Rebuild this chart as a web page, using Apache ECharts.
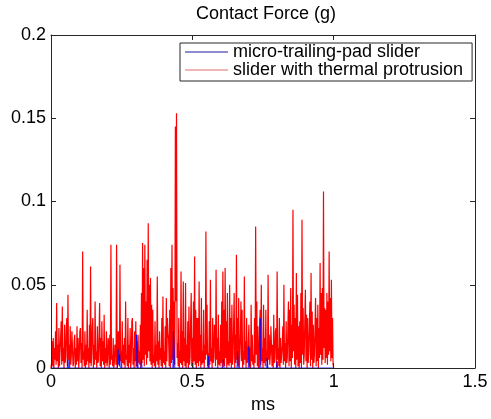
<!DOCTYPE html>
<html>
<head>
<meta charset="utf-8">
<script src="https://cdn.jsdelivr.net/npm/echarts@6/dist/echarts.min.js"></script>
<style>
html,body{margin:0;padding:0;background:#fff;}
#chart{width:491px;height:419px;}
</style>
</head>
<body>
<div id="chart"></div>
<script>
// Contact force samples, in units of 1e-3 g, one sample every 0.002 ms from 0 to 1 ms
const sampleStep = 0.002;
const redForce = [
  0,3, 16,1, 18,0, 12,5, 22,2, 39,4, 14,0, 24,1, 10,18, 28,2,
  37,4, 12,0, 26,3, 6,24, 30,1, 44,5, 14,0, 25,2, 8,22, 23,1,
  3,16, 20,0, 12,2, 25,4, 18,0, 6,22, 24,3, 15,0, 70,5, 10,1,
  22,0, 14,2, 35,4, 12,0, 26,3, 61,1, 8,24, 30,0, 14,2, 40,5,
  10,0, 25,3, 5,20, 39,1, 18,0, 28,4, 16,2, 32,0, 12,3, 22,1,
  4,18, 15,0, 20,2, 74,5, 8,1, 18,0, 3,14, 12,2, 74,0, 6,22,
  20,1, 62,4, 10,0, 28,3, 14,2, 18,0, 40,5, 8,1, 30,0, 14,3,
  24,0, 5,28, 30,2, 12,0, 22,4, 28,1, 16,0, 20,3, 10,2, 26,0,
  45,3, 75,5, 60,1, 74,8, 40,2, 65,6, 87,10, 50,4, 54,2, 38,0,
  35,3, 8,1, 28,0, 14,4, 55,2, 16,0, 22,5, 12,1, 30,0, 43,3,
  10,2, 25,0, 42,4, 30,20, 18,1, 35,0, 60,3, 74,5, 48,0, 40,2,
  145,40, 153,6, 15,1, 30,0, 10,3, 58,2, 22,0, 52,4, 18,1, 51,0,
  14,3, 28,0, 37,2, 6,28, 45,1, 18,0, 40,4, 67,2, 35,0, 30,3,
  30,1, 52,4, 20,0, 42,2, 10,3, 35,0, 14,5, 82,8, 38,1, 9,0,
  28,2, 53,4, 12,0, 30,3, 6,26, 24,1, 59,5, 18,0, 32,2, 10,1,
  26,3, 40,0, 58,4, 35,1, 60,6, 28,0, 45,2, 16,1, 50,3, 30,0,
  38,2, 6,26, 45,0, 20,3, 68,5, 30,1, 42,0, 8,20, 40,4, 35,0,
  10,2, 55,5, 16,0, 30,3, 5,14, 26,1, 12,0, 38,4, 20,2, 8,0,
  30,3, 85,8, 40,1, 25,0, 6,24, 35,2, 50,4, 12,0, 38,3, 18,1,
  35,4, 10,0, 56,5, 20,2, 8,25, 26,1, 14,0, 32,3, 6,22, 24,0,
  58,5, 12,1, 30,0, 18,3, 8,14, 25,2, 50,4, 15,0, 28,3, 6,24,
  40,1, 35,4, 48,0, 26,6, 95,10, 38,2, 30,0, 57,5, 44,1, 25,0,
  28,3, 45,0, 89,8, 36,2, 8,30, 47,4, 32,0, 30,3, 10,26, 40,1,
  57,5, 34,0, 26,3, 8,24, 42,1, 30,4, 38,0, 24,6, 63,8, 45,2,
  48,5, 106,12, 36,3, 35,6, 45,2, 40,8, 70,10, 42,4, 53,6, 30,2,
  0
];
// Micro-trailing-pad slider: sparse small contacts (time in ms, force in 1e-3 g)
const blueTime = [0, 0.058, 0.06, 0.062, 0.235, 0.237, 0.240, 0.243, 0.245, 0.301, 0.303, 0.306, 0.308,
  0.318, 0.320, 0.322, 0.431, 0.433, 0.436, 0.438, 0.555, 0.557, 0.559, 0.608, 0.610, 0.612,
  0.658, 0.660, 0.662, 0.698, 0.700, 0.702, 0.738, 0.740, 0.742, 0.763, 0.765, 0.767,
  0.798, 0.800, 0.802, 1.0];
const blueForce = [0, 0, 5, 0, 0, 11, 2, 8, 0, 0, 20, 8, 0,
  0, 5, 0, 0, 22, 10, 0, 0, 7, 0, 0, 5, 0,
  0, 10, 0, 0, 13, 0, 0, 30, 0, 0, 6, 0,
  0, 4, 0, 0];
const seriesNames = ['micro-trailing-pad slider', 'slider with thermal protrusion'];
const xTicks = [0, 0.5, 1, 1.5];
const yTicks = [0, 0.05, 0.1, 0.15, 0.2];

const redData = redForce.map((v, i) => [+(i * sampleStep).toFixed(4), v / 1000]);
const blueData = blueTime.map((t, i) => [t, blueForce[i] / 1000]);

const FONT = '"Liberation Sans", Arial, sans-serif';
const AXC = '#262626';
const chart = echarts.init(document.getElementById('chart'), null, {renderer: 'canvas'});
const axisCommon = {
  axisLine: {show: true, onZero: false, lineStyle: {color: AXC, width: 1}},
  axisTick: {show: true, inside: true, length: 5, lineStyle: {color: AXC}},
  splitLine: {show: false},
  z: 10
};
chart.setOption({
  animation: false,
  backgroundColor: '#fff',
  title: {
    text: 'Contact Force (g)', left: 261, top: 0, textAlign: 'center',
    textStyle: {fontFamily: FONT, fontSize: 18, fontWeight: 'normal', color: '#000'}
  },
  legend: {
    data: [
      {name: seriesNames[0], icon: 'rect', itemStyle: {color: '#1a1aa0'}},
      {name: seriesNames[1], icon: 'rect', itemStyle: {color: '#e07070'}}
    ],
    orient: 'vertical', left: 180, top: 43,
    itemWidth: 43, itemHeight: 1, itemGap: 0,
    padding: [0, 9, 2, 5],
    borderColor: AXC, borderWidth: 1, backgroundColor: '#fff',
    textStyle: {fontFamily: FONT, fontSize: 18, color: '#000', lineHeight: 16}
  },
  grid: {left: 51, right: 16, top: 35, bottom: 51},
  xAxis: [
    Object.assign({
      type: 'value', min: 0, max: 1.5, interval: 0.5, position: 'bottom',
      name: 'ms', nameLocation: 'middle', nameGap: 25,
      nameTextStyle: {fontFamily: FONT, fontSize: 18, color: '#000'},
      axisLabel: {fontFamily: FONT, fontSize: 18, color: '#000', margin: 5,
        formatter: v => String(xTicks.find(t => Math.abs(t - v) < 1e-9) ?? v)}
    }, axisCommon),
    Object.assign({
      type: 'value', min: 0, max: 1.5, interval: 0.5, position: 'top',
      axisLabel: {show: false}
    }, axisCommon)
  ],
  yAxis: [
    Object.assign({
      type: 'value', min: 0, max: 0.2, interval: 0.05, position: 'left',
      axisLabel: {fontFamily: FONT, fontSize: 18, color: '#000', margin: 5,
        formatter: v => String(yTicks.find(t => Math.abs(t - v) < 1e-9) ?? v)}
    }, axisCommon),
    Object.assign({
      type: 'value', min: 0, max: 0.2, interval: 0.05, position: 'right',
      axisLabel: {show: false}
    }, axisCommon)
  ],
  series: [
    {
      name: seriesNames[1], type: 'line', data: redData, xAxisIndex: 0, yAxisIndex: 0,
      symbol: 'none', color: '#ff0000', lineStyle: {width: 1.2, color: '#ff0000'}, z: 3
    },
    {
      name: seriesNames[0], type: 'line', data: blueData, xAxisIndex: 0, yAxisIndex: 0,
      symbol: 'none', color: '#0000ff', lineStyle: {width: 1, color: '#0000ff', opacity: 0.8}, z: 4
    }
  ]
});
</script>
</body>
</html>
